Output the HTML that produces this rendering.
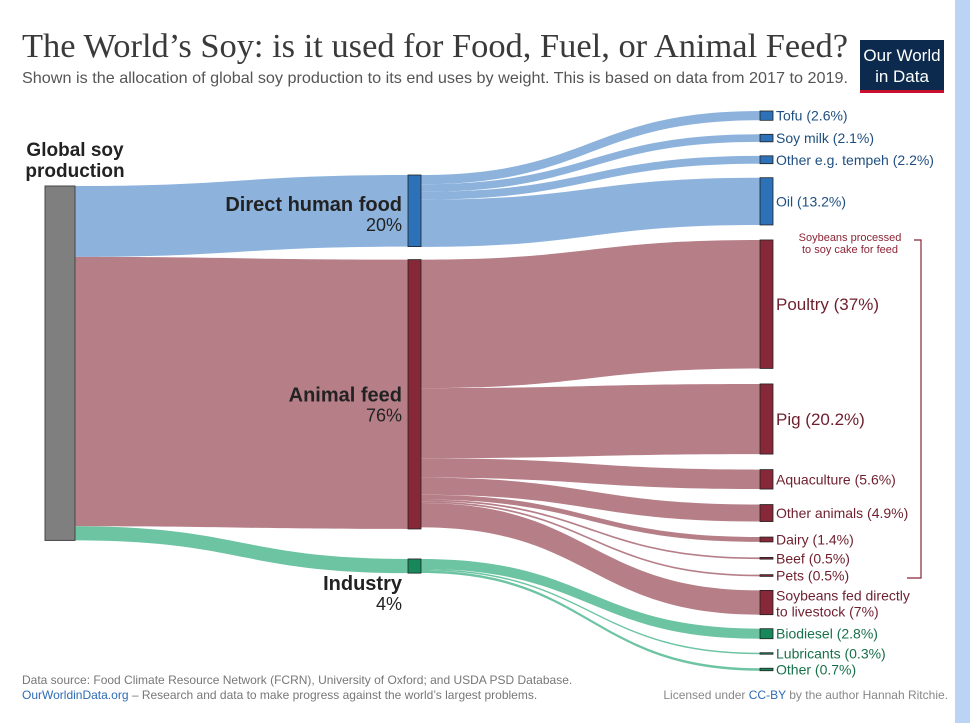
<!DOCTYPE html>
<html><head><meta charset="utf-8"><style>
body{margin:0;background:#fff;width:970px;height:723px;overflow:hidden;font-family:"Liberation Sans",sans-serif}
svg text{font-family:"Liberation Sans",sans-serif}
</style></head><body>
<svg id="chart" width="970" height="723" xmlns="http://www.w3.org/2000/svg">
<rect x="955" y="0" width="15" height="723" fill="#bcd4f4"/>
<text x="22" y="57" font-size="33.5" fill="#3a3a3a" textLength="826" lengthAdjust="spacingAndGlyphs" style="font-family:'Liberation Serif',serif">The World’s Soy: is it used for Food, Fuel, or Animal Feed?</text>
<text x="22" y="83" font-size="16" fill="#555" textLength="826" lengthAdjust="spacingAndGlyphs">Shown is the allocation of global soy production  to its end uses by weight. This is based on data from 2017 to 2019.</text>
<g>
<rect x="860" y="40" width="84" height="53" fill="#0c2a4d"/>
<rect x="860" y="90" width="84" height="3" fill="#c8102e"/>
<text x="902" y="61" font-size="17" fill="#fff" text-anchor="middle">Our World</text>
<text x="902" y="82" font-size="17" fill="#fff" text-anchor="middle">in Data</text>
</g>
<g id="flows"></g>
<g id="nodes"></g>
<g id="labels"></g>
<g stroke="#8b2536" stroke-width="1.2" fill="none">
<path d="M914 240 H921 V578 H907"/>
</g>
<text x="850" y="241" font-size="11" fill="#8b2536" text-anchor="middle">Soybeans processed</text>
<text x="850" y="253" font-size="11" fill="#8b2536" text-anchor="middle">to soy cake for feed</text>
<text x="22" y="684" font-size="12" fill="#777">Data source: Food Climate Resource Network (FCRN), University of Oxford; and USDA PSD Database.</text>
<text x="22" y="699" font-size="12" fill="#777"><tspan fill="#2d6bb5">OurWorldinData.org</tspan> – Research and data to make progress against the world’s largest problems.</text>
<text x="948" y="699" font-size="12" fill="#888" text-anchor="end">Licensed under <tspan fill="#2d6bb5">CC-BY</tspan> by the author Hannah Ritchie.</text>
</svg>
<script>
const groups = ["Direct human food","Animal feed","Industry"];
const groupValues = [20, 76, 4];
const endUses = ["Tofu","Soy milk","Other e.g. tempeh","Oil","Poultry","Pig","Aquaculture","Other animals","Dairy","Beef","Pets","Soybeans fed directly to livestock","Biodiesel","Lubricants","Other"];
const endValues = [2.6, 2.1, 2.2, 13.2, 37, 20.2, 5.6, 4.9, 1.4, 0.5, 0.5, 7, 2.8, 0.3, 0.7];
const endGroup = [0,0,0,0,1,1,1,1,1,1,1,1,2,2,2];

const NS="http://www.w3.org/2000/svg";
const K=3.58;
const scale=v=>v*K;
const nodeCol=["#2d72b8","#862838","#17885a"], flowCol=["#8db3dd","#b67f88","#6cc4a2"];
const flowsG=document.getElementById('flows'), nodesG=document.getElementById('nodes'), labG=document.getElementById('labels');
function mk(tag,attrs,parent){const e=document.createElementNS(NS,tag);for(const k in attrs)e.setAttribute(k,attrs[k]);parent.appendChild(e);return e;}
function band(x0,a0,b0,x1,a1,b1,col,parent){
  const m=(x0+x1)/2;
  return mk('path',{d:`M${x0} ${a0} C${m} ${a0} ${m} ${a1} ${x1} ${a1} L${x1} ${b1} C${m} ${b1} ${m} ${b0} ${x0} ${b0} Z`,fill:col},parent);
}
const srcX=45,srcW=30,srcTop=186;
const total=groupValues.reduce((a,b)=>a+b,0);
const srcEl=mk('rect',{x:srcX,y:srcTop,width:srcW,height:scale(total)*0.99,fill:'#7f7f7f',stroke:'#444','stroke-width':1},nodesG);


const midX=408,midW=13,midGaps=[175,13,30];
const labOff=[[0,20],[7,27],[24,44]];
let midY=[],y=0,sy=srcTop;
groupValues.forEach((v,i)=>{
  y = i===0? midGaps[0] : y + midGaps[i];
  const h=scale(v)*(i==0?1:0.99);
  midY.push(y);
  const sh=scale(v)*0.99;
  const f=band(srcX+srcW,sy,sy+sh,midX,y,y+h,flowCol[i],flowsG);
  
  
  sy+=sh;
  const r=mk('rect',{x:midX,y:y,width:midW,height:h,fill:nodeCol[i],stroke:'#222','stroke-width':0.8},nodesG);
  
  
  const cy=y+h/2;
  const t1=mk('text',{x:402,y:cy+labOff[i][0],'font-size':20,'font-weight':'bold',fill:'#222','text-anchor':'end'},labG);
  t1.textContent=groups[i];
  
  
  const t2=mk('text',{x:402,y:cy+labOff[i][1],'font-size':18,fill:'#222','text-anchor':'end'},labG);
  t2.textContent=v+'%';
  
  
  y+=h;
});
const rX=760,rW=13;
let ry=111, midOff=[0,0,0];
endValues.forEach((v,i)=>{
  const g=endGroup[i];
  if(i>0) ry+= (i<4?14:(i===4?15:(i<=10?15.5:14)));
  const h=Math.max(scale(v)*(g==1?0.97:1),1.5);
  const a0=midY[g]+midOff[g];
  const f=band(midX+midW,a0,a0+h,rX,ry,ry+h,flowCol[g],flowsG);
  
  
  midOff[g]+=h;
  const r=mk('rect',{x:rX,y:ry,width:rW,height:h,fill:nodeCol[g],stroke:'#222','stroke-width':0.8},nodesG);
  
  
  const big=(i===4||i===5);
  const cy=ry+h/2;
  const col=g==0?'#1f4f80':(g==1?'#6e1f2e':'#17704a');
  if(i===11){
    const t=mk('text',{x:776,y:cy-2,'font-size':14,fill:col},labG);
    t.innerHTML='<tspan x="776">Soybeans fed directly</tspan><tspan x="776" dy="16">to livestock ('+v+'%)</tspan>';
    
    
  } else {
    const t=mk('text',{x:776,y:cy+(big?6:5),'font-size':big?17:14,fill:col},labG);
    t.textContent=endUses[i]+' ('+v+'%)';
    
    
  }
  ry+=h;
});
const gl=mk('text',{x:75,y:156,'font-size':19,'font-weight':'bold',fill:'#222','text-anchor':'middle'},labG);
gl.innerHTML='<tspan x="75">Global soy</tspan><tspan x="75" dy="21">production</tspan>';


</script>
</body></html>
